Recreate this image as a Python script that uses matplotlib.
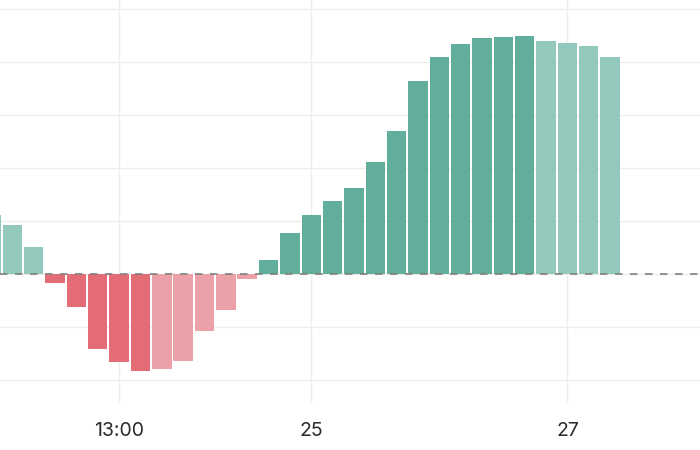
import numpy as np
import matplotlib
matplotlib.use("Agg")
import matplotlib.pyplot as plt

# histogram values, one per bar (first bar is cut off at the left edge)
hist_values = [1.12, 0.92, 0.51,
               -0.16, -0.62, -1.42, -1.65, -1.83, -1.79, -1.64, -1.08, -0.68, -0.09,
               0.27, 0.77, 1.12, 1.38, 1.62, 2.11, 2.71, 3.65, 4.09, 4.35, 4.45,
               4.47, 4.50, 4.40, 4.37, 4.31, 4.09]
tick_positions = [6, 15, 27]
tick_labels = ["13:00", "25", "27"]

green_dark = "#60ae9b"
green_light = "#93c9bc"
red_dark = "#e46c76"
red_light = "#eca0a7"

plt.rcParams["font.family"] = ["Inter", "DejaVu Sans"]


def bar_colors(vals):
    cols = []
    prev = np.inf
    for v in vals:
        if v >= 0:
            cols.append(green_dark if v >= prev else green_light)
        else:
            cols.append(red_dark if v <= prev else red_light)
        prev = v
    return cols


def main():
    fig = plt.figure(figsize=(7, 4.5), dpi=100)
    ax = fig.add_axes([0, 1 - 403 / 450, 1, 403 / 450])

    x = np.arange(len(hist_values))
    ax.bar(x, hist_values, width=0.91, color=bar_colors(hist_values),
           linewidth=0, zorder=2)
    ax.axhline(0, color="#808080", linestyle=(0, (4.5, 4.5)), linewidth=1.2, zorder=3)

    ax.set_xlim(0.42, 33.21)
    ax.set_ylim(-2.43, 5.175)
    ax.set_yticks(np.arange(-2, 6, 1))
    ax.set_xticks(tick_positions)
    ax.set_xticklabels(tick_labels)
    ax.tick_params(axis="x", length=0, pad=14, labelsize=14, labelcolor="#2b2b2b")
    ax.tick_params(axis="y", length=0, labelleft=False)
    ax.grid(True, color="#ededed", linewidth=1, zorder=0)
    ax.set_axisbelow(True)
    for s in ax.spines.values():
        s.set_visible(False)

    fig.savefig("out.png", dpi=100)


if __name__ == "__main__":
    main()
